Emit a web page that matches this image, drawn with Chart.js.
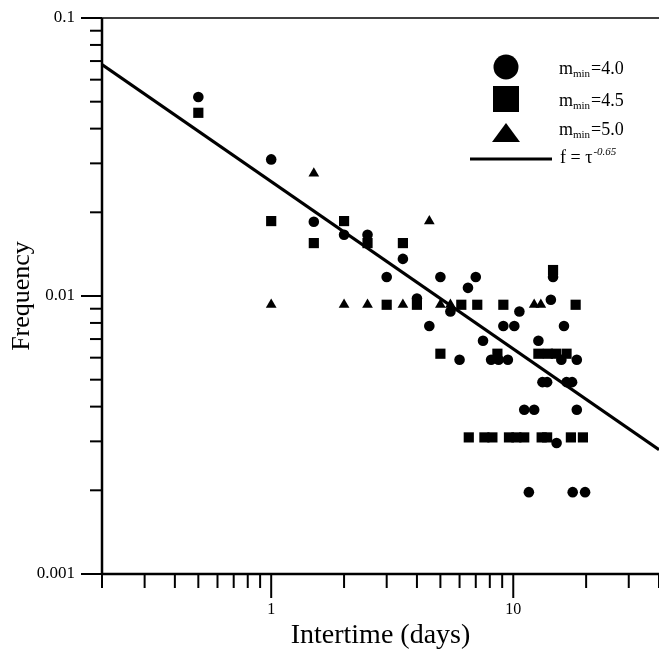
<!DOCTYPE html>
<html>
<head>
<meta charset="utf-8">
<script src="https://cdn.jsdelivr.net/npm/chart.js@4/dist/chart.umd.min.js"></script>
<style>
  html, body { margin: 0; padding: 0; background: #fff; }
  #c { display: block; }
</style>
</head>
<body>
<canvas id="c" width="659" height="652"></canvas>
<script>
// ---- Data ----
const circleX = [0.5, 1, 1.5, 2, 2.5, 3, 3.5, 4, 4.5, 5, 5.5, 6, 6.5, 7, 7.5, 8.1, 8.7, 9.5, 9.1, 10.1, 10.6, 11.1, 12.2, 11.6, 12.7, 13.2, 13.8, 14.3, 14.6, 15.1, 15.8, 16.2, 16.6, 17.5, 18.3, 18.3, 17.6, 19.8];
const circleY = [0.052, 0.031, 0.0185, 0.0166, 0.0166, 0.0117, 0.0136, 0.0098, 0.0078, 0.0117, 0.0088, 0.0059, 0.0107, 0.0117, 0.0069, 0.0059, 0.0059, 0.0059, 0.0078, 0.0078, 0.0088, 0.0039, 0.0039, 0.00197, 0.0069, 0.0049, 0.0049, 0.0097, 0.0117, 0.00296, 0.0059, 0.0078, 0.0049, 0.0049, 0.0059, 0.0039, 0.00197, 0.00197];

const squareX = [0.5, 1, 1.5, 2, 2.5, 3, 3.5, 4, 5, 6.1, 7.1, 8.6, 9.1, 12.7, 13.9, 15.0, 16.6, 14.6, 18.1, 6.55, 7.6, 8.2, 9.6, 10.3, 11.1, 13.1, 13.8, 17.3, 19.4];
const squareY = [0.0456, 0.0186, 0.0155, 0.0186, 0.0155, 0.0093, 0.0155, 0.0093, 0.0062, 0.0093, 0.0093, 0.0062, 0.0093, 0.0062, 0.0062, 0.0062, 0.0062, 0.0124, 0.0093, 0.0031, 0.0031, 0.0031, 0.0031, 0.0031, 0.0031, 0.0031, 0.0031, 0.0031, 0.0031];

const triangleX = [1, 1.5, 2, 2.5, 3.5, 4.5, 5, 5.5, 12.2, 13];
const triangleY = [0.0093, 0.0276, 0.0093, 0.0093, 0.0093, 0.0186, 0.0093, 0.0093, 0.0093, 0.0093];

const fitX = [0.2, 40];
const fitY = [0.068, 0.0028];

const seriesLabels = ['4.0', '4.5', '5.0'];
const fitExponent = '-0.65';

const xMajorTicks = [1, 10];
const xMinorTicks = [0.2, 0.3, 0.4, 0.5, 0.6, 0.7, 0.8, 0.9, 2, 3, 4, 5, 6, 7, 8, 9, 20, 30, 40];
const yMajorTicks = [0.001, 0.01, 0.1];
const yMinorTicks = [0.002, 0.003, 0.004, 0.005, 0.006, 0.007, 0.008, 0.009, 0.02, 0.03, 0.04, 0.05, 0.06, 0.07, 0.08, 0.09];
const yTickLabels = ['0.001', '0.01', '0.1'];
const xTickLabels = ['1', '10'];

const toPts = (xs, ys) => xs.map((v, i) => ({ x: v, y: ys[i] }));
const SERIF = "'Liberation Serif', 'DejaVu Serif', serif";

function seg(ctx, x1, y1, x2, y2) {
  ctx.beginPath(); ctx.moveTo(x1, y1); ctx.lineTo(x2, y2); ctx.stroke();
}
function zeroPad(s) { s.paddingTop = 0; s.paddingBottom = 0; s.paddingLeft = 0; s.paddingRight = 0; }

const framePlugin = {
  id: 'frame',
  afterDraw(chart) {
    const { ctx, chartArea: { left, right, top, bottom }, scales: { x, y } } = chart;
    ctx.save();
    ctx.strokeStyle = '#000';
    ctx.fillStyle = '#000';
    ctx.lineCap = 'butt';
    // axes
    ctx.lineWidth = 2.5;
    seg(ctx, left, top, left, bottom + 1);
    seg(ctx, left - 1, bottom, right, bottom);
    ctx.lineWidth = 1.5;
    seg(ctx, left, top, right, top);
    // ticks
    ctx.lineWidth = 2;
    xMinorTicks.forEach(v => { const p = x.getPixelForValue(v); seg(ctx, p, bottom, p, bottom + 14); });
    xMajorTicks.forEach(v => { const p = x.getPixelForValue(v); seg(ctx, p, bottom, p, bottom + 24); });
    yMinorTicks.forEach(v => { const p = y.getPixelForValue(v); seg(ctx, left - 12, p, left, p); });
    yMajorTicks.forEach(v => { const p = y.getPixelForValue(v); seg(ctx, left - 21, p, left, p); });

    // legend
    const sx = 506;
    ctx.beginPath(); ctx.arc(sx, 67, 12.5, 0, Math.PI * 2); ctx.fill();
    ctx.fillRect(sx - 13, 86, 26, 26);
    ctx.beginPath(); ctx.moveTo(sx, 123); ctx.lineTo(sx + 14, 142); ctx.lineTo(sx - 14, 142); ctx.closePath(); ctx.fill();
    ctx.lineWidth = 3.2;
    seg(ctx, 470, 159, 552, 159);

    ctx.textBaseline = 'alphabetic';
    ctx.textAlign = 'left';
    const rows = [74, 106, 135];
    rows.forEach((by, i) => {
      let tx = 559;
      ctx.font = '18px ' + SERIF;
      ctx.fillText('m', tx, by);
      tx += ctx.measureText('m').width;
      ctx.font = '11px ' + SERIF;
      ctx.fillText('min', tx, by + 3);
      tx += ctx.measureText('min').width + 1;
      ctx.font = '18px ' + SERIF;
      ctx.fillText('=' + seriesLabels[i], tx, by);
    });
    let fx = 560;
    ctx.font = '18px ' + SERIF;
    ctx.fillText('f = \u03C4', fx, 163);
    fx += ctx.measureText('f = \u03C4').width + 1;
    ctx.font = 'italic 11px ' + SERIF;
    ctx.fillText(fitExponent, fx, 155);
    ctx.restore();
  }
};

new Chart(document.getElementById('c'), {
  type: 'scatter',
  data: {
    datasets: [
      {
        type: 'line',
        label: 'fit',
        data: toPts(fitX, fitY),
        borderColor: '#000',
        borderWidth: 3,
        pointRadius: 0,
        fill: false,
        tension: 0,
        order: 0
      },
      {
        label: 'm_min=4.0',
        data: toPts(circleX, circleY),
        pointStyle: 'circle',
        pointRadius: 5.3,
        backgroundColor: '#000',
        borderColor: '#000',
        borderWidth: 0
      },
      {
        label: 'm_min=4.5',
        data: toPts(squareX, squareY),
        pointStyle: 'rect',
        pointRadius: 7.2,
        backgroundColor: '#000',
        borderColor: '#000',
        borderWidth: 0
      },
      {
        label: 'm_min=5.0',
        data: toPts(triangleX, triangleY),
        pointStyle: 'triangle',
        pointRadius: 6.2,
        backgroundColor: '#000',
        borderColor: '#000',
        borderWidth: 0
      }
    ]
  },
  options: {
    responsive: false,
    animation: false,
    layout: { autoPadding: false, padding: { top: 18, left: 0, right: 0, bottom: 0 } },
    plugins: { legend: { display: false }, tooltip: { enabled: false } },
    scales: {
      x: {
        type: 'logarithmic',
        position: 'bottom',
        min: 0.2,
        max: 40,
        grid: { display: false, drawTicks: false },
        border: { display: false },
        afterBuildTicks: s => { s.ticks = xMajorTicks.map(v => ({ value: v })); },
        afterFit: s => { s.height = 78; zeroPad(s); },
        ticks: {
          autoSkip: false,
          maxRotation: 0,
          padding: 26,
          color: '#000',
          font: { family: SERIF, size: 16 },
          callback: (v) => { const i = xMajorTicks.indexOf(v); return i >= 0 ? xTickLabels[i] : ''; }
        },
        title: {
          display: true,
          text: 'Intertime (days)',
          color: '#000',
          font: { family: SERIF, size: 28 },
          padding: { top: 0, bottom: 0 }
        }
      },
      y: {
        type: 'logarithmic',
        position: 'left',
        min: 0.001,
        max: 0.1,
        grid: { display: false, drawTicks: false },
        border: { display: false },
        afterBuildTicks: s => { s.ticks = yMajorTicks.map(v => ({ value: v })); },
        afterFit: s => { s.width = 102; zeroPad(s); },
        ticks: {
          autoSkip: false,
          padding: 27,
          color: '#000',
          font: { family: SERIF, size: 17 },
          callback: (v) => { const i = yMajorTicks.findIndex(t => Math.abs(t - v) < 1e-12); return i >= 0 ? yTickLabels[i] : ''; }
        },
        title: {
          display: true,
          text: 'Frequency',
          color: '#000',
          font: { family: SERIF, size: 26 },
          padding: { top: 7, bottom: 0 }
        }
      }
    }
  },
  plugins: [framePlugin]
});
</script>
</body>
</html>
